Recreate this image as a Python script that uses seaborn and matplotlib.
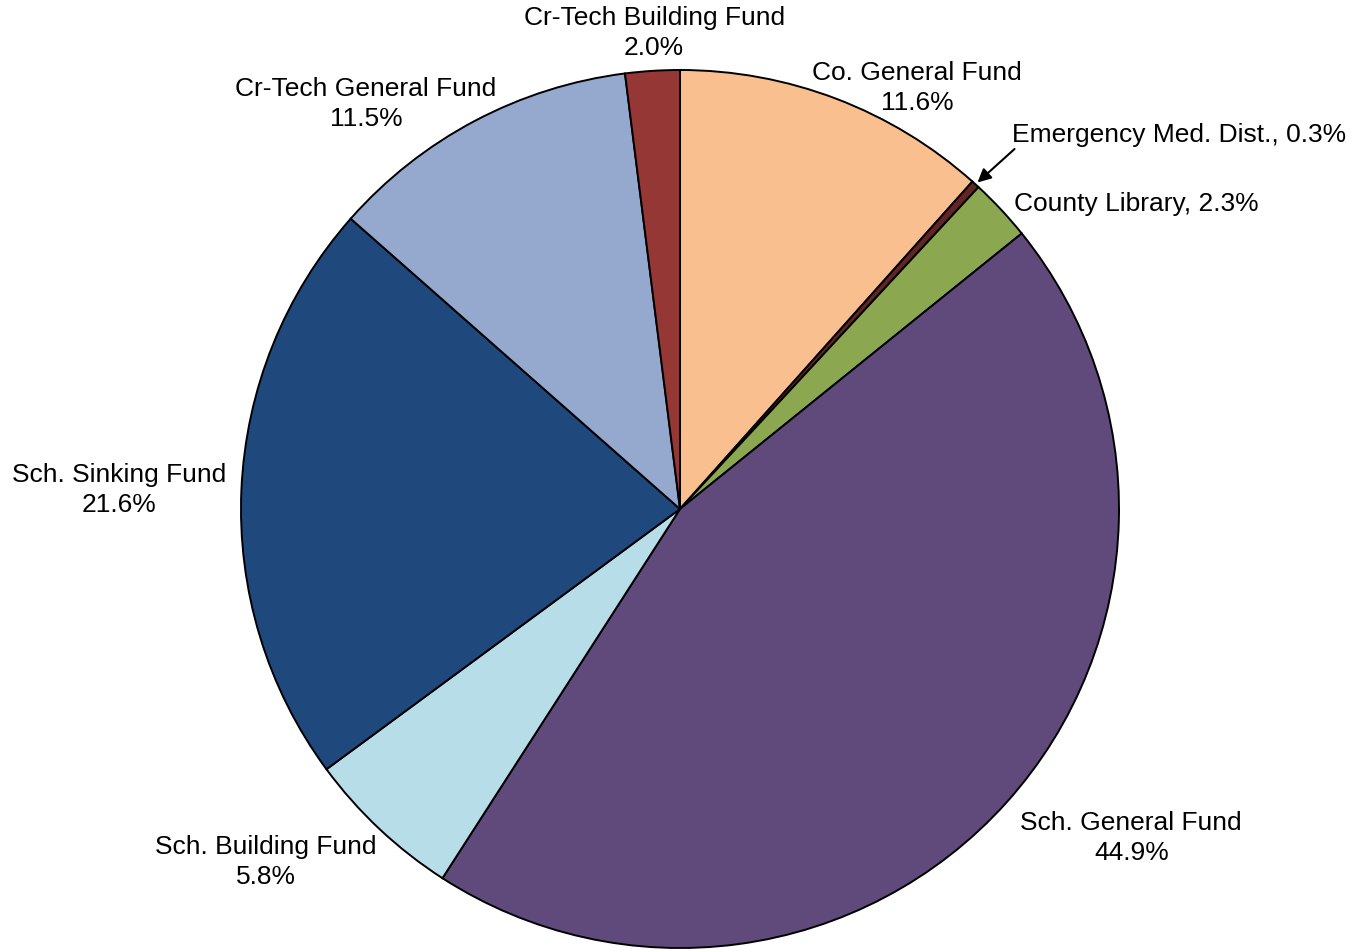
#!/usr/bin/env python3
# Share of property tax levy by fund, pie chart

import numpy as np
from matplotlib import pyplot as plt
import seaborn as sns
sns.set_style("white")
plt.rcParams['font.family'] = ['Liberation Sans', 'DejaVu Sans']
plt.rcParams['text.color'] = 'black'

# Data ------------------------------------------------------------------------
funds = ['Co. General Fund', 'Emergency Med. Dist.', 'County Library',
         'Sch. General Fund', 'Sch. Building Fund', 'Sch. Sinking Fund',
         'Cr-Tech General Fund', 'Cr-Tech Building Fund']
shares = [11.6, 0.3, 2.3, 44.9, 5.8, 21.6, 11.5, 2.0]
colors = ['#F9BF8F', '#632523', '#8BA74F', '#604A7B',
          '#B7DDE8', '#1F497D', '#95A9CF', '#953735']

# label layout (text position in pie units, alignment, one-line or two-line)
label_pos = [(0.54, 0.96, 'center', False),
             (0.757, 0.852, 'left', True),
             (0.761, 0.695, 'left', True),
             (1.028, -0.749, 'center', False),
             (-0.943, -0.804, 'center', False),
             (-1.277, 0.043, 'center', False),
             (-0.715, 0.923, 'center', False),
             (-0.059, 1.084, 'center', False)]

# Plot ------------------------------------------------------------------------
fig = plt.figure(figsize=(13.59, 9.51), dpi=100)
ax = fig.add_axes([0, 0, 1, 1])

wedges, _ = ax.pie(shares, colors=colors, startangle=90, counterclock=False,
                   radius=1, wedgeprops={'edgecolor': 'black', 'linewidth': 1.4})

ax.set_xlim(-680 / 439, 679 / 439)
ax.set_ylim(-442 / 439, 509 / 439)
ax.set_aspect('auto')
ax.axis('off')

for name, val, (x, y, ha, one_line) in zip(funds, shares, label_pos):
    if one_line:
        txt = f'{name}, {val:.1f}%'
    else:
        txt = f'{name}\n{val:.1f}%'
    ax.text(x, y, txt, ha=ha, va='center', fontsize=19, color='black',
            linespacing=1.32)

# arrow for the tiny slice
w = wedges[1]
mid = np.deg2rad((w.theta1 + w.theta2) / 2)
ax.annotate('', xy=(np.cos(mid), np.sin(mid)), xytext=(0.762, 0.82),
            arrowprops=dict(arrowstyle='-|>', color='black', lw=1.5,
                            mutation_scale=20, shrinkA=0, shrinkB=2))

fig.savefig('out.png', dpi=100)
